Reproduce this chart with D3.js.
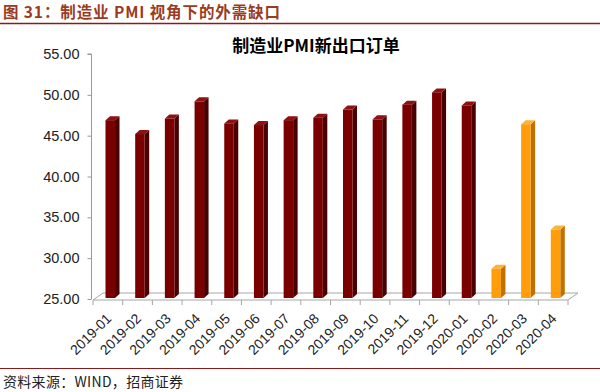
<!DOCTYPE html>
<html><head><meta charset="utf-8">
<script src="https://cdn.jsdelivr.net/npm/d3@7"></script>
<style>body{margin:0;background:#fff}svg{display:block}</style>
</head><body>
<svg id="c" width="600" height="392"></svg>
<script>
const categories = ["2019-01","2019-02","2019-03","2019-04","2019-05","2019-06","2019-07","2019-08","2019-09","2019-10","2019-11","2019-12","2020-01","2020-02","2020-03","2020-04"];
const values = [46.9,45.2,47.1,49.2,46.5,46.3,46.9,47.2,48.2,47.0,48.8,50.3,48.7,28.7,46.4,33.5];
const highlighted = ["2020-02","2020-03","2020-04"];
const yTicks = [25,30,35,40,45,50,55];
const chartTitle = "制造业PMI新出口订单";
const figTitle = "图 31：制造业 PMI 视角下的外需缺口";
const sourceText = "资料来源：WIND，招商证券";

const svg = d3.select("#c");
const x = d3.scaleBand().domain(categories).range([93, 568]).paddingInner(0).paddingOuter(0);
const y = d3.scaleLinear().domain([25, 55]).range([299, 54]);
const dx = 10, dy = 7;   // floor depth
const bdx = 4.5, bdy = 4; // bar depth

// header
svg.append("text").attr("x", 3).attr("y", 18).text(figTitle)
  .attr("font-family", "'Noto Sans CJK SC', sans-serif").attr("font-weight", "bold")
  .attr("font-size", 15.5).attr("letter-spacing", 0.9).attr("fill", "#9A3B22");
svg.append("line").attr("x1", 0).attr("x2", 600).attr("y1", 23.5).attr("y2", 23.5)
  .attr("stroke", "#8B1A1A").attr("stroke-width", 1.5);

// chart title
svg.append("text").attr("x", 316).attr("y", 52).attr("text-anchor", "middle").text(chartTitle)
  .attr("font-family", "'Noto Sans CJK SC', sans-serif").attr("font-weight", "bold")
  .attr("font-size", 17).attr("fill", "#000");

// y axis
const yAxis = svg.append("g").attr("transform", "translate(91.5,0)")
  .call(d3.axisLeft(y).tickValues(yTicks).tickFormat(d3.format(".2f")).tickSize(4).tickPadding(8));
yAxis.select(".domain").attr("stroke", "#999").attr("d", `M-4,${y(55)}H0V${y(25)}`);
yAxis.selectAll(".tick line").attr("stroke", "#999");
yAxis.selectAll(".tick text").attr("font-family", "'Liberation Sans', Arial, sans-serif")
  .attr("font-size", 14.5).attr("fill", "#222");

// floor
const x0 = x.range()[0], x1 = x.range()[1], base = y(25) + 1;
svg.append("path")
  .attr("d", `M${x0},${base}L${x1},${base}L${x1+dx},${base-dy}L${x0+dx},${base-dy}Z`)
  .attr("fill", "none").attr("stroke", "#a6a6a6").attr("stroke-width", 1);
// x ticks
svg.append("g").selectAll("line").data(categories.concat(["_end"])).join("line")
  .attr("x1", (d, i) => x0 + i * x.bandwidth()).attr("x2", (d, i) => x0 + i * x.bandwidth())
  .attr("y1", base).attr("y2", base + 5).attr("stroke", "#a6a6a6");

// bars
const colors = {
  red: {front: "#7A0000", side: "#4A0000", top: "#8E1010"},
  org: {front: "#FF9D0A", side: "#C07100", top: "#FFB23A"}
};
const bw = 9.5, off = 12.5;
const g = svg.append("g");
categories.forEach((c, i) => {
  const col = highlighted.includes(c) ? colors.org : colors.red;
  const bx = x(c) + off, top = y(values[i]), bot = base - 2;
  g.append("path").attr("d", `M${bx+bw},${top}L${bx+bw+bdx},${top-bdy}L${bx+bw+bdx},${bot-bdy}L${bx+bw},${bot}Z`).attr("fill", col.side);
  g.append("path").attr("d", `M${bx},${top}L${bx+bdx},${top-bdy}L${bx+bw+bdx},${top-bdy}L${bx+bw},${top}Z`).attr("fill", col.top);
  g.append("rect").attr("x", bx).attr("y", top).attr("width", bw).attr("height", bot - top).attr("fill", col.front);
});

// x labels
svg.append("g").selectAll("text").data(categories).join("text")
  .attr("transform", d => `translate(${x(d) + x.bandwidth()/2 + 1},${base + 16}) rotate(-45)`)
  .attr("text-anchor", "end").attr("dy", "0.35em").text(d => d)
  .attr("font-family", "'Liberation Sans', Arial, sans-serif").attr("font-size", 14).attr("fill", "#222");

// footer
svg.append("line").attr("x1", 0).attr("x2", 600).attr("y1", 368.5).attr("y2", 368.5)
  .attr("stroke", "#8B1A1A").attr("stroke-width", 1.2);
svg.append("text").attr("x", 3).attr("y", 387).text(sourceText)
  .attr("font-family", "'Noto Sans CJK SC', serif").attr("font-size", 14).attr("letter-spacing", 0.3).attr("fill", "#222");
</script>
</body></html>
